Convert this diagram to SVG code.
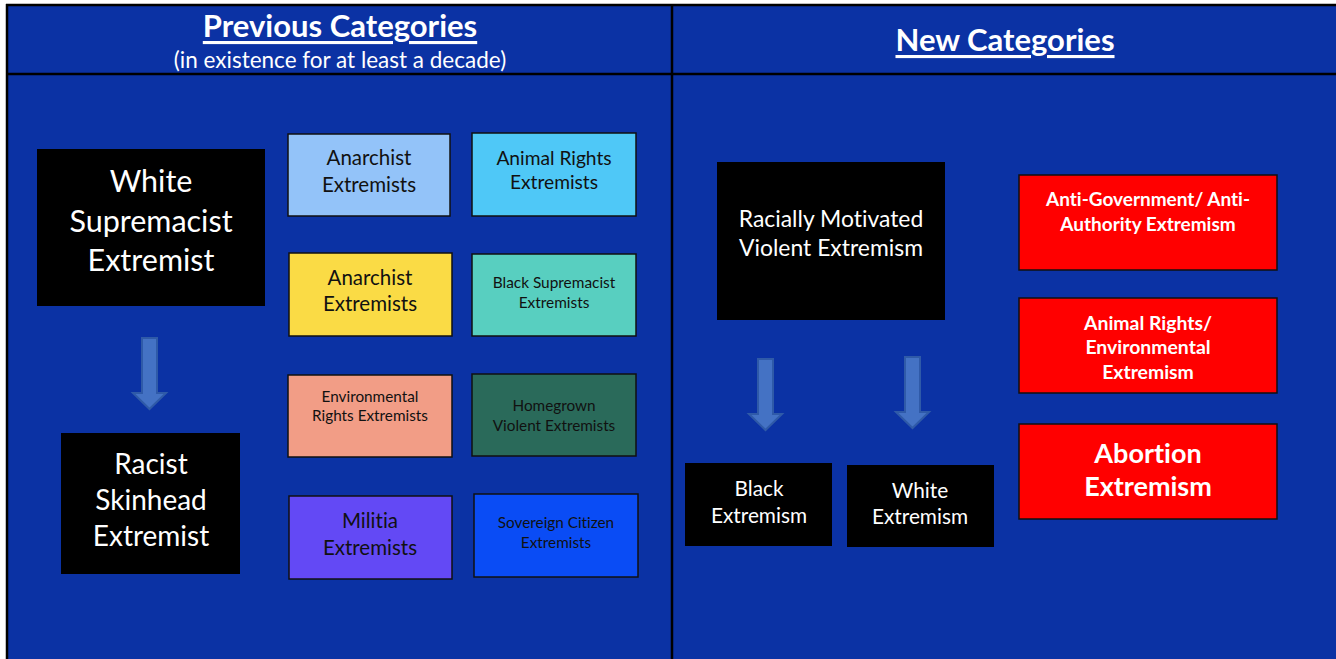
<svg xmlns="http://www.w3.org/2000/svg" width="1336" height="659" viewBox="0 0 1336 659">
<style>
text{font-family:Lato,"Open Sans","Liberation Sans",sans-serif;text-anchor:middle;dominant-baseline:central;font-variant-ligatures:none;font-feature-settings:"liga" 0}
.w{fill:#fff}
.k{fill:#111}
.box{stroke:#111;stroke-width:1.5}
.blk{fill:#000}
.red{fill:#ff0000;stroke:#111;stroke-width:1.5}
.arr{fill:#4472c4;stroke:#2f5aa8;stroke-width:2}
.b{font-weight:bold}
</style>
<rect x="0" y="0" width="1336" height="659" fill="#fff"/>
<rect x="7" y="5" width="1329" height="654" fill="#0b32a4"/>
<g id="frame" fill="none" stroke="#000" stroke-width="2.5">
<line x1="6" y1="5" x2="1336" y2="5"/>
<line x1="7" y1="4" x2="7" y2="659"/>
<line x1="7" y1="74" x2="1336" y2="74"/>
<line x1="672" y1="5" x2="672" y2="659"/>
</g>
<g id="header-left">
<text class="w b" x="340" y="25" font-size="31" text-decoration="underline">Previous Categories</text>
<text class="w" x="340" y="59" font-size="22.5">(in existence for at least a decade)</text>
</g>
<g id="header-right">
<text class="w b" x="1005" y="39" font-size="31" text-decoration="underline">New Categories</text>
</g>
<g id="connectors">
<path class="arr" d="M142,338 H157 V393 H166 L149.5,409 L133,393 H142 Z"/>
<path class="arr" d="M758,359 H773 V414 H782 L765.5,430 L749,414 H758 Z"/>
<path class="arr" d="M905,357 H920 V412 H929 L912.5,428 L896,412 H905 Z"/>
</g>
<g id="white-supremacist">
<rect class="blk" x="37" y="149" width="228" height="157"/>
<text class="w" x="151" y="180" font-size="30.5">White</text>
<text class="w" x="151" y="220" font-size="30.5">Supremacist</text>
<text class="w" x="151" y="259" font-size="30.5">Extremist</text>
</g>
<g id="racist-skinhead">
<rect class="blk" x="61" y="433" width="179" height="141"/>
<text class="w" x="151" y="463" font-size="28">Racist</text>
<text class="w" x="151" y="499" font-size="28">Skinhead</text>
<text class="w" x="151" y="535" font-size="28">Extremist</text>
</g>
<g id="anarchist-1">
<rect class="box" x="288" y="134" width="162" height="82" fill="#93c3f9"/>
<text class="k" x="369" y="157" font-size="20.5">Anarchist</text>
<text class="k" x="369" y="184" font-size="20.5">Extremists</text>
</g>
<g id="animal-rights">
<rect class="box" x="472" y="133" width="164" height="83" fill="#4fc8f7"/>
<text class="k" x="554" y="157" font-size="19.2">Animal Rights</text>
<text class="k" x="554" y="181" font-size="19.2">Extremists</text>
</g>
<g id="anarchist-2">
<rect class="box" x="289" y="253" width="163" height="83" fill="#fadb45"/>
<text class="k" x="370" y="277" font-size="20.5">Anarchist</text>
<text class="k" x="370" y="303" font-size="20.5">Extremists</text>
</g>
<g id="black-supremacist">
<rect class="box" x="472" y="254" width="164" height="82" fill="#58cfc0"/>
<text class="k" x="554" y="282" font-size="15.4">Black Supremacist</text>
<text class="k" x="554" y="302" font-size="15.4">Extremists</text>
</g>
<g id="environmental-rights">
<rect class="box" x="288" y="375" width="164" height="82" fill="#f29d86"/>
<text class="k" x="370" y="396" font-size="15.3">Environmental</text>
<text class="k" x="370" y="415" font-size="15.3">Rights Extremists</text>
</g>
<g id="homegrown">
<rect class="box" x="472" y="374" width="164" height="82" fill="#2a6a5a"/>
<text class="k" x="554" y="405" font-size="15.3">Homegrown</text>
<text class="k" x="554" y="425" font-size="15.3">Violent Extremists</text>
</g>
<g id="militia">
<rect class="box" x="289" y="496" width="163" height="83" fill="#6349f5"/>
<text class="k" x="370" y="520" font-size="20.5">Militia</text>
<text class="k" x="370" y="547" font-size="20.5">Extremists</text>
</g>
<g id="sovereign-citizen">
<rect class="box" x="474" y="494" width="164" height="83" fill="#0a4cf5"/>
<text class="k" x="556" y="522" font-size="15.3">Sovereign Citizen</text>
<text class="k" x="556" y="542" font-size="15.3">Extremists</text>
</g>
<g id="racially-motivated">
<rect class="blk" x="717" y="162" width="228" height="158"/>
<text class="w" x="831" y="218" font-size="22.9">Racially Motivated</text>
<text class="w" x="831" y="247" font-size="22.9">Violent Extremism</text>
</g>
<g id="black-extremism">
<rect class="blk" x="685" y="463" width="147" height="83"/>
<text class="w" x="759" y="487" font-size="20.8">Black</text>
<text class="w" x="759" y="514" font-size="20.8">Extremism</text>
</g>
<g id="white-extremism">
<rect class="blk" x="847" y="465" width="147" height="82"/>
<text class="w" x="920" y="489" font-size="20.8">White</text>
<text class="w" x="920" y="515" font-size="20.8">Extremism</text>
</g>
<g id="anti-government">
<rect class="red" x="1019" y="175" width="258" height="95"/>
<text class="w b" x="1148" y="198" font-size="19">Anti-Government/ Anti-</text>
<text class="w b" x="1148" y="223" font-size="19">Authority Extremism</text>
</g>
<g id="animal-environmental">
<rect class="red" x="1019" y="298" width="258" height="95"/>
<text class="w b" x="1148" y="322" font-size="19.4">Animal Rights/</text>
<text class="w b" x="1148" y="346" font-size="19.4">Environmental</text>
<text class="w b" x="1148" y="371" font-size="19.4">Extremism</text>
</g>
<g id="abortion">
<rect class="red" x="1019" y="424" width="258" height="95"/>
<text class="w b" x="1148" y="452" font-size="27">Abortion</text>
<text class="w b" x="1148" y="485" font-size="27">Extremism</text>
</g>
</svg>
